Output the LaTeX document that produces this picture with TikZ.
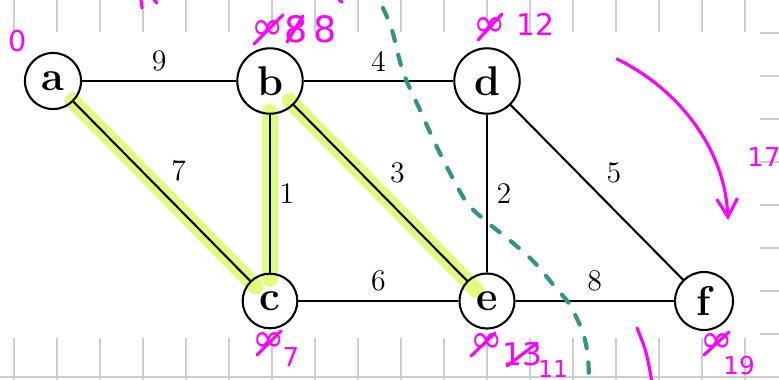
\documentclass[tikz,border=0pt]{standalone}
\usepackage{fontspec}
\newfontfamily\handfont{DejaVu Sans}
\usetikzlibrary{arrows.meta,calc,backgrounds}
\definecolor{hilite}{RGB}{222,252,125}
\definecolor{inkpink}{RGB}{255,0,255}
\definecolor{inkteal}{RGB}{50,146,140}
\definecolor{gridgray}{RGB}{205,205,205}

\begin{document}
\begin{tikzpicture}[x=0.385pt, y=-0.385pt,
  vertex/.style={draw, circle, line width=0.8pt, inner sep=3.6pt, font=\fontsize{16}{18}\selectfont\bfseries},
  edge/.style={line width=0.8pt},
  weight/.style={font=\fontsize{11.5}{13}\selectfont},
  marker/.style={hilite, line width=6pt, line cap=round},
  pen/.style={inkpink, line width=1.2pt, line cap=round},
  hand/.style={text=inkpink, inner sep=0pt, font=\handfont\fontsize{#1}{#1}\selectfont},
  cut/.style={inkteal, line width=1.6pt, line cap=round, dash pattern=on 4pt off 5.5pt}]
\useasboundingbox (0,0) rectangle (779,380);
\clip (0,0) rectangle (779,380);

\node[vertex] (a) at (53,81) {a};
\node[vertex] (b) at (270,81) {b};
\node[vertex] (d) at (487,81) {d};
\node[vertex] (c) at (270,301) {c};
\node[vertex] (e) at (487,301) {e};
\node[vertex] (f) at (704,301) {f};

% paper and highlighter go underneath
\begin{scope}[on background layer]
\foreach \x in {14,57,...,745} \draw[gridgray, line width=0.75pt] (\x,0) -- (\x,380);
\foreach \y in {33,76,...,377} \draw[gridgray, line width=0.75pt] (0,\y) -- (779,\y);
\fill[white] (0,32) rectangle (760,338);
\draw[marker] ($(a)!0.09!(c)$) -- ($(a)!0.935!(c)$);
\draw[marker] ($(b)!0.14!(c)$) -- ($(b)!0.9!(c)$);
\draw[marker] ($(b)!0.09!(e)$) -- ($(b)!0.95!(e)$);
\end{scope}

\draw[edge] (a) -- node[weight, above] {9} (b);
\draw[edge] (b) -- node[weight, above] {4} (d);
\draw[edge] (a) -- node[weight, above right] {7} (c);
\draw[edge] (b) -- node[weight, right] {1} (c);
\draw[edge] (b) -- node[weight, above right] {3} (e);
\draw[edge] (d) -- node[weight, right] {2} (e);
\draw[edge] (d) -- node[weight, above right] {5} (f);
\draw[edge] (c) -- node[weight, above] {6} (e);
\draw[edge] (e) -- node[weight, above] {8} (f);

% the cut
\draw[cut] plot[smooth] coordinates {(383,8) (392,30) (403,72) (420,110) (435,143) (450,173)
  (467,203) (487,222) (513,243) (535,263) (555,287) (570,305) (583,333) (588,357) (589,384)};

% handwritten distances
\node[hand=11] (adist) at (18,41) {0};
\node[hand=15] (binf) at (268,30) {∞};
\node[hand=14] (bfirst) at (296,29) {8};
\node[hand=14] (bnew) at (325,29) {8};
\draw[pen] (254,44) -- (283,15);
\draw[pen] (287,42) -- (303,16);
\node[hand=15] (dinf) at (490,27) {∞};
\node[hand=11.5] (dnew) at (535,24) {12};
\draw[pen] (478,40) -- (502,14);
\node[hand=15] (cinf) at (269,342) {∞};
\node[hand=10] (cnew) at (291,357) {7};
\draw[pen] (257,355) -- (281,331);
\node[hand=15] (einf) at (487,343) {∞};
\node[hand=12] (efirst) at (522,354) {13};
\node[hand=9] (enew) at (553,369) {11};
\draw[pen] (471,356) -- (495,333);
\draw[pen] (507,366) -- (537,343);
\node[hand=15] (finf) at (717,343) {∞};
\node[hand=9.5] (fnew) at (739,366) {19};
\draw[pen] (704,355) -- (729,332);
\node[hand=10] (side) at (764,157) {17};

% loose strokes
\draw[pen, -{Straight Barb[length=7pt,width=8pt]}] (617,59) .. controls (680,90) and (725,150) .. (728,220);
\draw[pen] (637,328) .. controls (646,350) .. (652,382);
\draw[pen] (141,0) -- (142,8);
\draw[pen] (154,0) -- (157,3);
\draw[pen] (339,0) -- (342,2);
\end{tikzpicture}
\end{document}
